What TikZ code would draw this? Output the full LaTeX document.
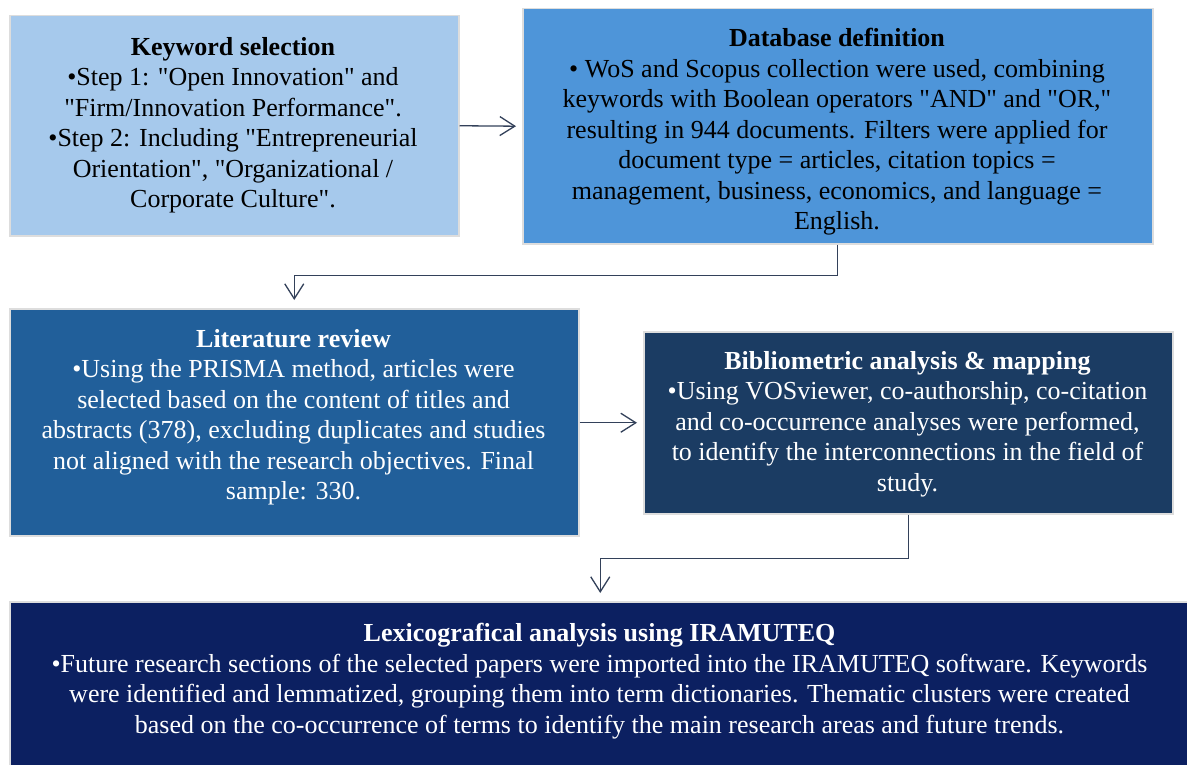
\documentclass[tikz,border=0pt]{standalone}
\usepackage{fontspec}
\setmainfont{Liberation Serif}
\usetikzlibrary{arrows.meta}
\newcommand\qq{\XeTeXglyph\XeTeXcharglyph"22\relax}
\definecolor{kwfill}{HTML}{A6C9EC}
\definecolor{dbfill}{HTML}{4E95D9}
\definecolor{litfill}{HTML}{215F9A}
\definecolor{bibfill}{HTML}{1B3C63}
\definecolor{lexfill}{HTML}{0C2061}
\definecolor{edge}{HTML}{DDDDDD}
\definecolor{conn}{HTML}{33415A}
\tikzset{
  box/.style={draw=edge, line width=1.5pt, rectangle, inner sep=0pt, anchor=north west},
  txt/.style={align=center, inner sep=0pt, font=\fontsize{26}{30.5}\selectfont},
  conn/.style={draw=conn, line width=1.3pt, -{Straight Barb[length=15pt,width=19pt,line width=1.3pt]}}
}
\begin{document}
\begin{tikzpicture}[x=1pt,y=1pt]
\useasboundingbox (0,0) rectangle (1187,-765);
\fill[white] (0,0) rectangle (1187,-765);
% boxes
\node[box, fill=kwfill, minimum width=449pt, minimum height=220pt] (kw) at (9,-15) {};
\node[box, fill=dbfill, minimum width=630pt, minimum height=235pt] (db) at (522,-8) {};
\node[box, fill=litfill, minimum width=569pt, minimum height=227pt] (lit) at (9,-308) {};
\node[box, fill=bibfill, minimum width=529pt, minimum height=182pt] (bib) at (643,-331) {};
\node[box, fill=lexfill, minimum width=1181pt, minimum height=180pt] (lex) at (9,-601) {};
% texts
\node[txt] (kwT) at (233,-125) {\textbf{Keyword selection}\\
•Step 1: \qq Open Innovation\qq{} and\\
\qq Firm/Innovation Performance\qq.\\
•Step 2: Including \qq Entrepreneurial\\
Orientation\qq, \qq Organizational /\\
Corporate Culture\qq.};
\node[txt] (dbT) at (837,-132) {\textbf{Database definition}\\
• WoS and Scopus collection were used, combining\\
keywords with Boolean operators \qq AND\qq{} and \qq OR,\qq\\
resulting in 944 documents. Filters were applied for\\
document type = articles, citation topics =\\
management, business, economics, and language =\\
English.};
\node[txt, text=white] (litT) at (293.5,-417) {\textbf{Literature review}\\
•Using the PRISMA method, articles were\\
selected based on the content of titles and\\
abstracts (378), excluding duplicates and studies\\
not aligned with the research objectives. Final\\
sample: 330.};
\node[txt, text=white] (bibT) at (907.5,-424) {\textbf{Bibliometric analysis \& mapping}\\
•Using VOSviewer, co-authorship, co-citation\\
and co-occurrence analyses were performed,\\
to identify the interconnections in the field of\\
study.};
\node[txt, text=white] (lexT) at (599.5,-681) {\textbf{Lexicografical analysis using IRAMUTEQ}\\
•Future research sections of the selected papers were imported into the IRAMUTEQ software. Keywords\\
were identified and lemmatized, grouping them into term dictionaries. Thematic clusters were created\\
based on the co-occurrence of terms to identify the main research areas and future trends.};
% connectors
\draw[conn, shorten >=6pt] (kw.east) -- (db.west);
\draw[conn, shorten >=8pt] (db.south) -- ++(0,-31) -| (lit.north);
\draw[conn, shorten >=6pt] (lit.east |- bib.west) -- (bib.west);
\draw[conn, shorten >=8pt] (bib.south) -- ++(0,-44) -| (lex.north);
\end{tikzpicture}
\end{document}
